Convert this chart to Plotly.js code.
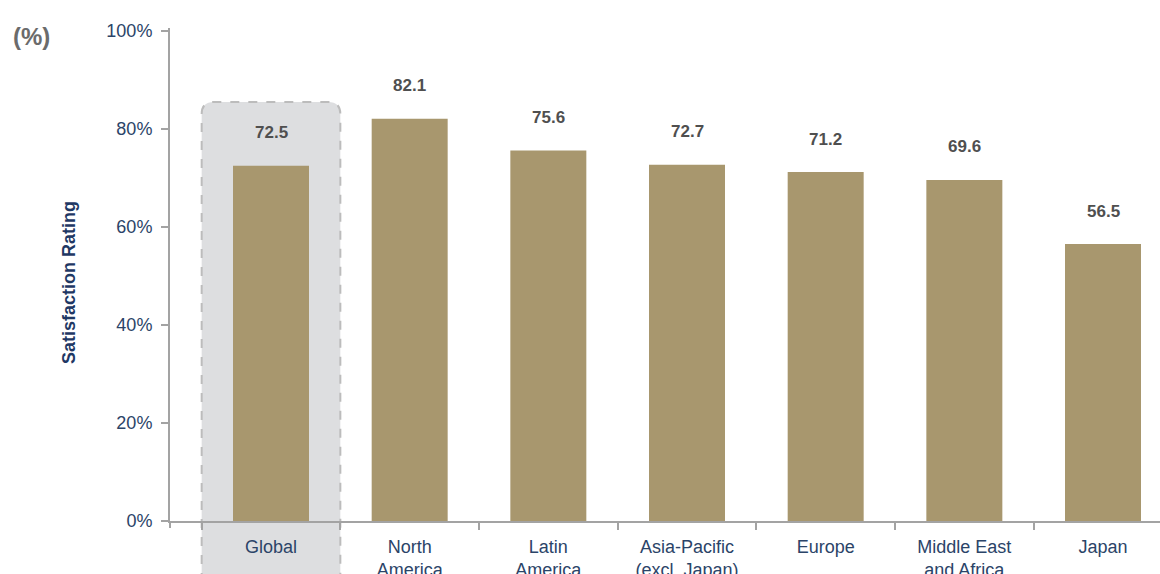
<!DOCTYPE html>
<html>
<head>
<meta charset="utf-8">
<script src="https://cdn.plot.ly/plotly-3.0.1.min.js"></script>
<style>
html,body{margin:0;padding:0;background:#fff;}
#chart{width:1160px;height:574px;}
</style>
</head>
<body>
<div id="chart"></div>
<script>
// ---- data ----
const categories = ["Global", "North<br>America", "Latin<br>America", "Asia-Pacific<br>(excl. Japan)", "Europe", "Middle East<br>and Africa", "Japan"];
const ratings = [72.5, 82.1, 75.6, 72.7, 71.2, 69.6, 56.5];
const ratingLabels = ["72.5", "82.1", "75.6", "72.7", "71.2", "69.6", "56.5"];
const yTickVals = [0, 20, 40, 60, 80, 100];
const yTickText = ["0%", "20%", "40%", "60%", "80%", "100%"];

// ---- styling / layout ----
const FONT = "Liberation Sans, Arial, Helvetica, sans-serif";
const NAVY = "#2b4468";
const AXIS = "#a3a3a3";
const xRange = [-0.7284, 6.411];
const W = 1160, H = 574, ML = 170, MR = 0, MT = 28, MB = 53;
const PW = W - ML - MR, PH = H - MT - MB;
const px2paperX = p => (p - ML) / PW;
const px2paperY = p => (H - MB - p) / PH;
const cat2paper = c => (c - xRange[0]) / (xRange[1] - xRange[0]);

// highlight box around Global
const bx0 = cat2paper(-0.5), bx1 = cat2paper(0.5);
const byT = px2paperY(102), byB = px2paperY(600);
const rx = 12 / PW, ry = 12 / PH;
const boxPath = `M ${bx0},${byB} L ${bx0},${byT - ry} Q ${bx0},${byT} ${bx0 + rx},${byT} L ${bx1 - rx},${byT} Q ${bx1},${byT} ${bx1},${byT - ry} L ${bx1},${byB} Z`;

const trace = {
  type: "bar",
  x: categories,
  y: ratings,
  width: 0.548,
  marker: {color: "#a8976e"},
  hoverinfo: "skip"
};

const annotations = categories.map((c, i) => ({
  x: c, y: ratings[i], xref: "x", yref: "y",
  text: "<b>" + ratingLabels[i] + "</b>",
  showarrow: false, xanchor: "center", yanchor: "middle", yshift: 33,
  font: {family: FONT, size: 17, color: "#4f4f4f"}
}));
annotations.push({
  xref: "paper", yref: "paper", x: px2paperX(69), y: px2paperY(283),
  text: "<b>Satisfaction Rating</b>", textangle: -90, showarrow: false,
  xanchor: "center", yanchor: "middle",
  font: {family: FONT, size: 18, color: "#1f3864"}
});
annotations.push({
  xref: "paper", yref: "paper", x: px2paperX(31), y: px2paperY(36),
  text: "<b>(%)</b>", showarrow: false, xanchor: "center", yanchor: "middle",
  font: {family: FONT, size: 24, color: "#6b6b6b"}
});

const layout = {
  width: W, height: H,
  margin: {l: ML, r: MR, t: MT, b: MB, pad: 0},
  paper_bgcolor: "#fff", plot_bgcolor: "rgba(0,0,0,0)",
  showlegend: false,
  font: {family: FONT},
  xaxis: {
    type: "category", range: xRange,
    showgrid: false, zeroline: false,
    showline: true, linecolor: AXIS, linewidth: 2,
    ticks: "outside", tickson: "boundaries", ticklen: 7, tickcolor: AXIS, tickwidth: 2,
    ticklabelstandoff: 8,
    tickfont: {family: FONT, size: 18, color: NAVY},
    fixedrange: true
  },
  yaxis: {
    range: [0, 100.6],
    tickmode: "array", tickvals: yTickVals, ticktext: yTickText,
    showgrid: false, zeroline: false,
    showline: true, linecolor: AXIS, linewidth: 2,
    ticks: "outside", ticklen: 7, tickcolor: AXIS, tickwidth: 2,
    ticklabelstandoff: 5,
    tickfont: {family: FONT, size: 18, color: NAVY},
    fixedrange: true
  },
  shapes: [
    {type: "path", path: boxPath, xref: "paper", yref: "paper", layer: "below",
     fillcolor: "#dddee0", line: {color: "#bcbcbc", width: 2, dash: "dash"}},
    {type: "line", xref: "paper", yref: "paper", x0: 0, x1: 0, y0: 0, y1: -7 / PH,
     line: {color: AXIS, width: 2}}
  ],
  annotations: annotations
};

Plotly.newPlot("chart", [trace], layout, {displayModeBar: false, staticPlot: true});
</script>
</body>
</html>
